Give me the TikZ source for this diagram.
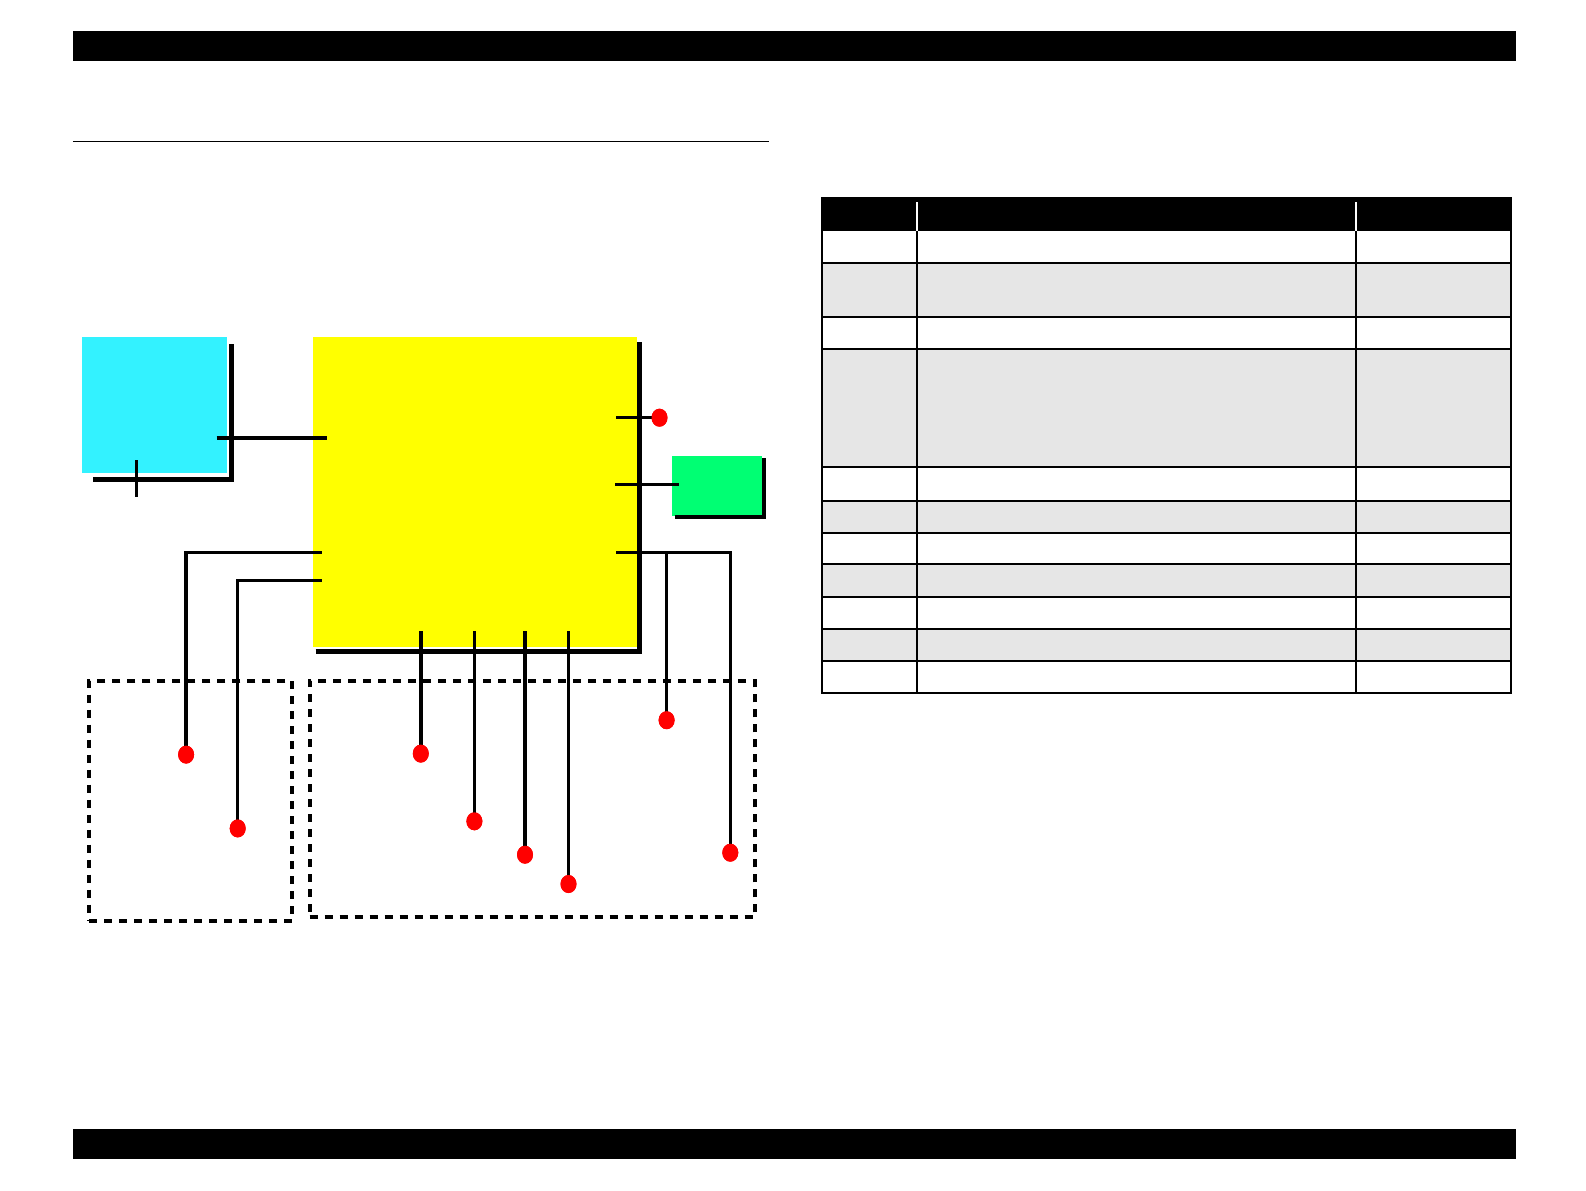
\documentclass[tikz,border=0pt]{standalone}
\usetikzlibrary{shapes.geometric}
\definecolor{boxcyan}{RGB}{51,242,255}
\definecolor{boxyellow}{RGB}{255,255,0}
\definecolor{boxgreen}{RGB}{0,255,115}
\definecolor{rowgray}{RGB}{230,230,230}
\tikzset{
  wire/.style={line width=1.75pt, black},
  shadowline/.style={line width=2.2pt, black},
  dot/.style={ellipse, fill=red, draw=none, minimum width=8pt, minimum height=9pt, inner sep=0pt},
  blockbox/.style={rectangle, draw=none, inner sep=0pt},
  dashbox/.style={rectangle, inner sep=0pt, draw=black, line width=2pt, dash pattern=on 4pt off 3.5pt},
  bar/.style={fill=black, draw=none},
  tline/.style={line width=0.75pt},
}
\begin{document}
\begin{tikzpicture}[x=0.5pt,y=-0.5pt]
\useasboundingbox (0,0) rectangle (1586,1190);
% page bars and rule
\fill[bar] (72.8,31.4) rectangle (1516.2,60.7);
\fill[bar] (72.8,1128.8) rectangle (1516.2,1159.2);
\draw[line width=0.75pt] (72.8,141.6) -- (768.7,141.6);

% ---------- table ----------
\fill[black] (822,198) rectangle (1511,231);
\fill[rowgray] (822,263) rectangle (1511,317);
\fill[rowgray] (822,349) rectangle (1511,467);
\fill[rowgray] (822,501) rectangle (1511,533);
\fill[rowgray] (822,564) rectangle (1511,597);
\fill[rowgray] (822,629) rectangle (1511,661);
\draw[white, line width=0.6pt] (917,202) -- (917,231) (1356,202) -- (1356,231);
\foreach \yy in {263,317,349,467,501,533,564,597,629,661}
  \draw[tline] (822,\yy) -- (1511,\yy);
\draw[tline] (917,231) -- (917,693) (1356,231) -- (1356,693);
\draw[line width=1pt] (822,198) rectangle (1511,693);

% ---------- blocks ----------
\node[blockbox, fill=boxcyan, minimum width=72.5pt, minimum height=68pt] (cpu) at (154.5,405) {};
\draw[shadowline] (93,479.5) -- (231.6,479.5) -- (231.6,344);

\node[blockbox, fill=boxyellow, minimum width=162.3pt, minimum height=155.3pt] (asic) at (474.9,492.1) {};
\draw[shadowline] (315.6,651.4) -- (639.3,651.4) -- (639.3,342);

\node[blockbox, fill=boxgreen, minimum width=45pt, minimum height=29.9pt] (osc) at (716.6,486) {};
\draw[shadowline] (674.6,516.9) -- (763.7,516.9) -- (763.7,458);

% cpu links
\coordinate (ct1) at (136.5,460);
\coordinate (ct2) at (136.5,497);
\draw[wire] (ct1) -- (ct2);
\coordinate (cl1) at (216.5,438);
\coordinate (cl2) at (326.7,438);
\draw[wire] (cl1) -- (cl2);

% dashed groups
\node[dashbox, minimum width=101.6pt, minimum height=119.9pt] (grpA) at (190.65,800.6) {};
\node[dashbox, minimum width=222.5pt, minimum height=118.3pt] (grpB) at (532.05,799.05) {};

% red terminals
\node[dot] (d1) at (659.5,417.7) {};
\node[dot] (d5) at (186.1,754.6) {};
\node[dot] (d6) at (237.7,828.4) {};
\node[dot] (d7) at (420.8,753.6) {};
\node[dot] (d8) at (474.4,821.3) {};
\node[dot] (d9) at (525,854.7) {};
\node[dot] (d10) at (568.5,884) {};
\node[dot] (d11) at (666.6,720.2) {};
\node[dot] (d12) at (730.3,852.7) {};

% right-side stubs
\coordinate (r1) at (616,417.7);
\draw[wire] (r1) -- (d1.center);
\coordinate (r2) at (615,484.5);
\coordinate (r2e) at (679,484.5);
\draw[wire] (r2) -- (r2e);
\coordinate (r3) at (616,552.3);
\coordinate (br) at (666.6,552.3);
\draw[wire] (r3) -| (d12.center);
\draw[wire] (br) -- (d11.center);

% left-side stubs
\coordinate (l1) at (321.7,552.3);
\coordinate (l2) at (321.7,580.6);
\draw[wire] (l1) -| (d5.center);
\draw[wire] (l2) -| (d6.center);

% bottom stubs
\coordinate (b1) at (420.8,631.2);
\coordinate (b2) at (474.4,631.2);
\coordinate (b3) at (525,631.2);
\coordinate (b4) at (568.5,631.2);
\draw[wire] (b1) -- (d7.center);
\draw[wire] (b2) -- (d8.center);
\draw[wire] (b3) -- (d9.center);
\draw[wire] (b4) -- (d10.center);

% redraw dots on top
\foreach \d in {d1,d5,d6,d7,d8,d9,d10,d11,d12}
  \fill[red] (\d) ellipse [x radius=8, y radius=9];
\end{tikzpicture}
\end{document}
